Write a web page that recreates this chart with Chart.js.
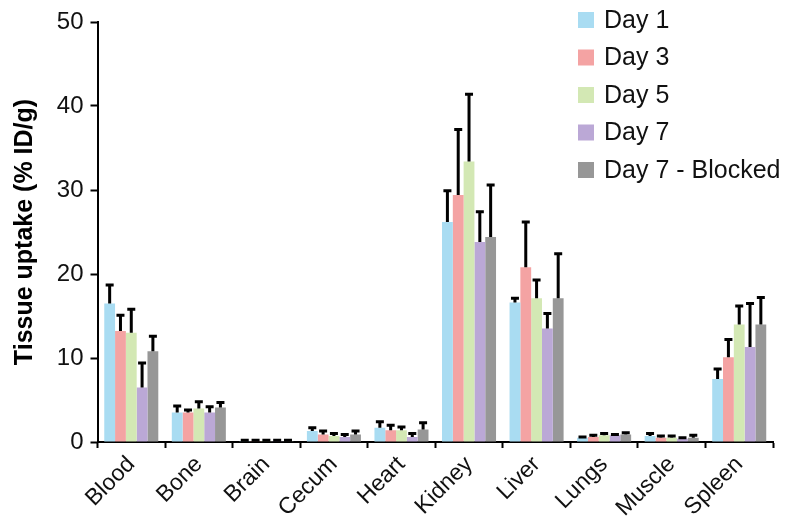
<!DOCTYPE html>
<html>
<head>
<meta charset="utf-8">
<script src="https://cdn.jsdelivr.net/npm/chart.js@4"></script>
<style>
  html, body { margin: 0; padding: 0; background: #fff; }
  #wrap { width: 800px; height: 529px; }
</style>
</head>
<body>
<div id="wrap"><canvas id="uptake"></canvas></div>
<script>
const organs = ["Blood", "Bone", "Brain", "Cecum", "Heart", "Kidney", "Liver", "Lungs", "Muscle", "Spleen"];
const seriesNames = ["Day 1", "Day 3", "Day 5", "Day 7", "Day 7 - Blocked"];
const seriesColors = ["#a9dcf2", "#f4a3a3", "#d3e8b4", "#bba8d6", "#979797"];

const day1 = [16.5, 3.5, 0.1, 1.3, 1.7, 26.2, 16.6, 0.5, 0.7, 7.5];
const day3 = [13.2, 3.5, 0.1, 0.9, 1.4, 29.4, 20.8, 0.6, 0.5, 10.1];
const day5 = [13.0, 4.0, 0.1, 0.7, 1.4, 33.4, 17.1, 0.8, 0.5, 14.0];
const day7 = [6.5, 3.5, 0.1, 0.6, 0.6, 23.8, 13.5, 0.8, 0.4, 11.3];
const blocked = [10.8, 4.1, 0.1, 0.9, 1.5, 24.4, 17.1, 0.9, 0.5, 14.0];

// upper error (SD)
const day1Err = [2.2, 0.8, 0.1, 0.4, 0.7, 3.7, 0.5, 0.1, 0.3, 1.2];
const day3Err = [1.9, 0.3, 0.1, 0.4, 0.6, 7.8, 5.4, 0.2, 0.2, 2.1];
const day5Err = [2.8, 0.8, 0.1, 0.3, 0.4, 8.0, 2.2, 0.2, 0.2, 2.2];
const day7Err = [2.9, 0.7, 0.1, 0.3, 0.4, 3.6, 1.8, 0.1, 0.1, 5.2];
const blockedErr = [1.8, 0.6, 0.1, 0.4, 0.8, 6.2, 5.3, 0.2, 0.3, 3.2];

const yTicks = [0, 10, 20, 30, 40, 50];

const values = [day1, day3, day5, day7, blocked];
const errors = [day1Err, day3Err, day5Err, day7Err, blockedErr];

const FONT = "'Liberation Sans', Arial, sans-serif";

const errorBars = {
  id: "errorBars",
  afterDatasetsDraw(chart) {
    const ctx = chart.ctx;
    const y = chart.scales.y;
    ctx.save();
    ctx.strokeStyle = "#000";
    ctx.lineWidth = 3;
    chart.data.datasets.forEach((ds, i) => {
      const meta = chart.getDatasetMeta(i);
      meta.data.forEach((bar, j) => {
        const top = y.getPixelForValue(ds.data[j] + errors[i][j]);
        ctx.beginPath();
        ctx.moveTo(bar.x, bar.y);
        ctx.lineTo(bar.x, top);
        ctx.moveTo(bar.x - 4, top);
        ctx.lineTo(bar.x + 4, top);
        ctx.stroke();
      });
    });
    ctx.restore();
  }
};

const boxLegend = {
  id: "boxLegend",
  afterDraw(chart) {
    const ctx = chart.ctx;
    ctx.save();
    ctx.font = "25px " + FONT;
    ctx.textBaseline = "middle";
    seriesNames.forEach((name, i) => {
      const cy = 20 + i * 37.5;
      ctx.fillStyle = seriesColors[i];
      ctx.fillRect(578, cy - 8, 16, 16);
      ctx.fillStyle = "#111";
      ctx.fillText(name, 604, cy + 1);
    });
    ctx.restore();
  }
};

new Chart(document.getElementById("uptake"), {
  type: "bar",
  data: {
    labels: organs,
    datasets: seriesNames.map((name, i) => ({
      label: name,
      data: values[i],
      backgroundColor: seriesColors[i],
      borderWidth: 0,
      categoryPercentage: 0.8,
      barPercentage: 1.0
    }))
  },
  plugins: [errorBars, boxLegend],
  options: {
    responsive: true,
    maintainAspectRatio: false,
    animation: false,
    layout: { padding: { top: 22, right: 27, left: 4, bottom: 2 } },
    plugins: {
      legend: { display: false },
      tooltip: { enabled: false }
    },
    scales: {
      x: {
        offset: true,
        afterFit(axis) { axis.height = 85; },
        grid: {
          offset: true,
          drawOnChartArea: false,
          tickLength: 6,
          tickWidth: 2,
          tickColor: "#000"
        },
        border: { color: "#000", width: 2 },
        ticks: {
          color: "#111",
          font: { family: FONT, size: 23 },
          maxRotation: 45,
          minRotation: 45,
          padding: 3
        }
      },
      y: {
        min: 0,
        max: 50,
        afterFit(axis) { axis.width = 93.5; },
        afterBuildTicks(axis) {
          axis.ticks = yTicks.map((v) => ({ value: v }));
        },
        grid: {
          drawOnChartArea: false,
          tickLength: 7,
          tickWidth: 2,
          tickColor: "#000"
        },
        border: { color: "#000", width: 2 },
        ticks: {
          color: "#111",
          font: { family: FONT, size: 24 },
          padding: 7
        },
        title: {
          display: true,
          text: "Tissue uptake (% ID/g)",
          color: "#000",
          font: { family: FONT, size: 25, weight: "bold" },
          padding: { top: 6, bottom: 0 }
        }
      }
    }
  }
});
</script>
</body>
</html>
